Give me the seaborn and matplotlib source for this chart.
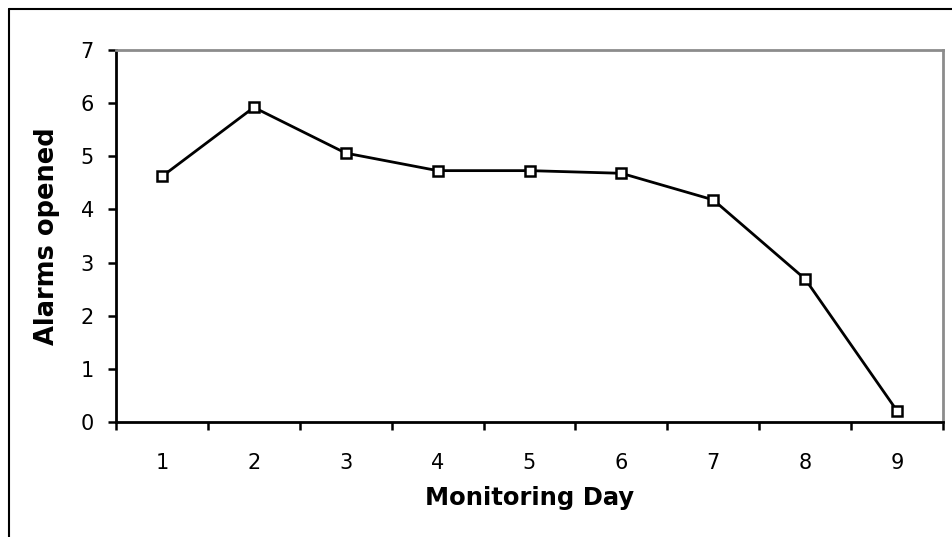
import matplotlib
matplotlib.use("Agg")
import matplotlib.pyplot as plt
import seaborn as sns
import pandas as pd
from matplotlib.lines import Line2D

days = [1, 2, 3, 4, 5, 6, 7, 8, 9]
alarms = [4.62, 5.92, 5.06, 4.73, 4.73, 4.68, 4.18, 2.69, 0.21]
y_ticks = [0, 1, 2, 3, 4, 5, 6, 7]

sns.set_style("white")
plt.rcParams['font.family'] = ['DejaVu Sans']
plt.rcParams['text.color'] = 'black'
plt.rcParams['axes.labelcolor'] = 'black'
plt.rcParams['xtick.color'] = 'black'
plt.rcParams['ytick.color'] = 'black'

df = pd.DataFrame({"Monitoring Day": days, "Alarms opened": alarms})

fig = plt.figure(figsize=(9.52, 5.37), dpi=100)
ax = fig.add_axes([116/952, 1-422/537, (943-116)/952, (422-50)/537])

sns.lineplot(data=df, x="Monitoring Day", y="Alarms opened", ax=ax,
             color="black", linewidth=2, marker="s", markersize=6.5,
             markerfacecolor="white", markeredgecolor="black", markeredgewidth=1.8)

ax.set_xlim(0.5, 9.5)
ax.set_ylim(0, 7)
ax.set_yticks(y_ticks)
ax.set_xticks(days)
ax.set_xticks([d + 0.5 for d in [0] + days], minor=True)

ax.tick_params(axis='x', which='major', length=0, pad=22, labelsize=15, labelcolor='black')
ax.tick_params(axis='x', which='minor', length=6, width=1.8, direction='out', bottom=True, color='black')
ax.tick_params(axis='y', which='major', length=6, width=1.8, direction='out', left=True, pad=10,
               labelsize=15, color='black', labelcolor='black')

for side in ['left', 'bottom']:
    ax.spines[side].set_color('black')
    ax.spines[side].set_linewidth(2)
for side in ['top', 'right']:
    ax.spines[side].set_color('#8c8c8c')
    ax.spines[side].set_linewidth(2)
    ax.spines[side].set_visible(True)

ax.set_xlabel("Monitoring Day", fontsize=17.5, fontweight='bold', labelpad=10, color='black')
ax.set_ylabel("Alarms opened", fontsize=18.5, fontweight='bold', labelpad=15, color='black')

# outer frame (left and top edges)
fig.add_artist(Line2D([8.5/952, 8.5/952], [0, 1-8.5/537], transform=fig.transFigure, color='black', linewidth=1.5))
fig.add_artist(Line2D([8.5/952, 1], [1-8.5/537, 1-8.5/537], transform=fig.transFigure, color='black', linewidth=1.5))

fig.savefig("out.png", dpi=100)
